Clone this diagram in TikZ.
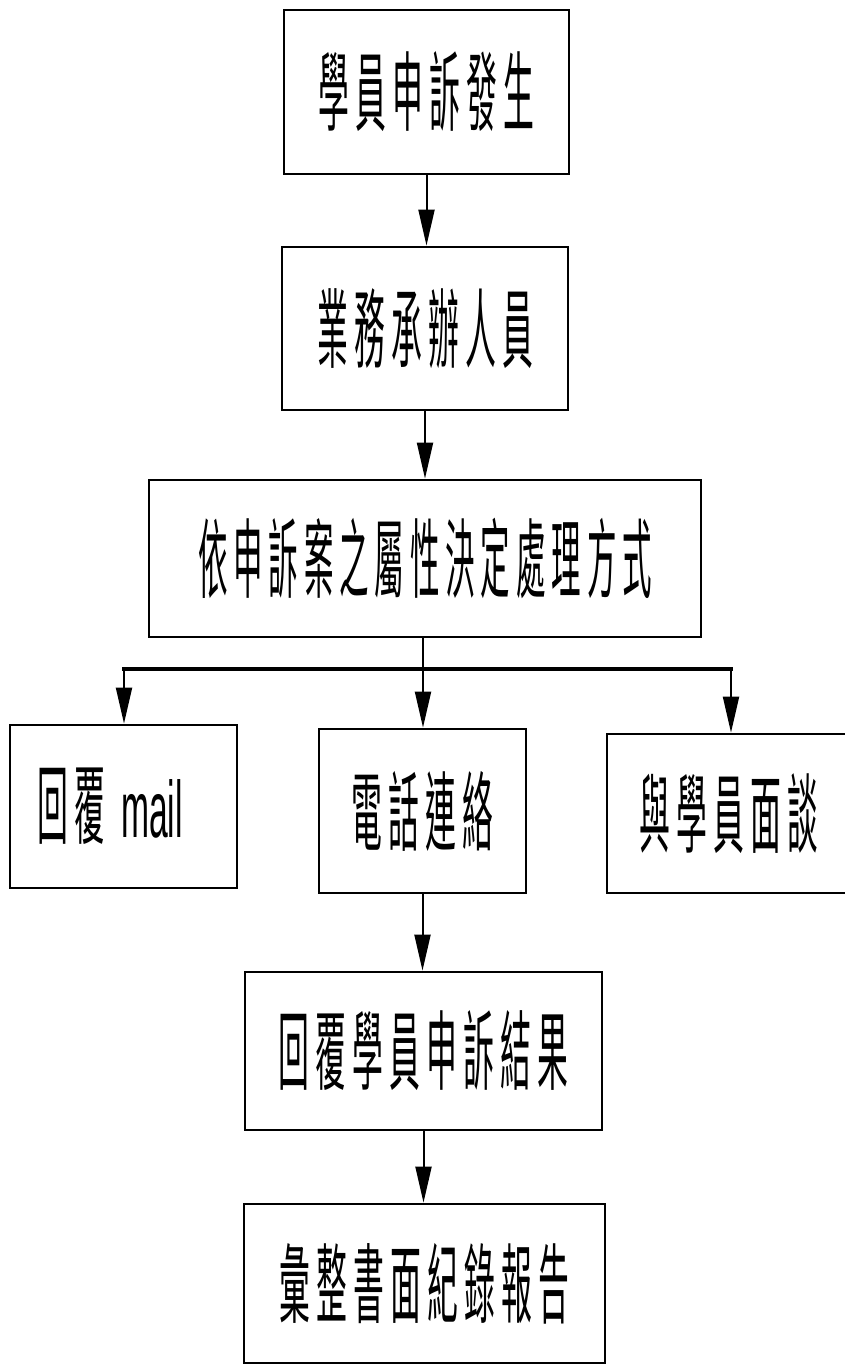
\documentclass[tikz,border=0pt]{standalone}
\usepackage{fontspec}
\newfontfamily\cjk{Noto Sans CJK TC}[LetterSpace=20]
\newfontfamily\lat{Liberation Sans}
\usetikzlibrary{arrows.meta}
\newcommand{\sqz}[2][0.356]{\scalebox{#1}[1]{#2}}
\tikzset{
  box/.style={draw, line width=2.1pt, inner sep=0pt, anchor=center,
              font=\cjk\fontsize{65}{70}\selectfont},
  txt/.style={inner sep=0pt, anchor=center, font=\cjk\fontsize{65}{70}\selectfont},
  conn/.style={line width=1.5pt, -{Triangle[length=27pt,width=12pt]}},
  plain/.style={line width=1.5pt},
  bar/.style={line width=2.4pt, line cap=rect}
}
\begin{document}
\begin{tikzpicture}[x=0.75pt,y=-0.75pt]
\useasboundingbox (0,0) rectangle (845,1365);
\clip (0,0) rectangle (845,1365);
\fill[white] (0,0) rectangle (845,1365);

\node[box, minimum width=213.75pt, minimum height=123pt]    (b1) at (426.5,92)   {\sqz{學員申訴發生}};
\node[box, minimum width=214.5pt,  minimum height=122.25pt] (b2) at (425,328.5)  {\sqz{業務承辦人員}};
\node[box, minimum width=414pt,    minimum height=117.75pt] (b3) at (425,558.5)  {\sqz[0.34]{依申訴案之屬性決定處理方式}};
\node[box, minimum width=170.25pt, minimum height=122.25pt] (b4) at (123.5,806.5) {};
\node[txt] (t4) at (110,806) {\sqz{回覆}\hspace{12pt}\sqz[0.42]{\lat\fontsize{60}{70}\selectfont mail}};
\node[box, minimum width=155.25pt, minimum height=123pt]    (b5) at (422.5,811)  {\sqz{電話連絡}};
\node[box, minimum width=182.25pt, minimum height=119.25pt] (b6) at (728.5,813.5) {\sqz{與學員面談}};
\node[box, minimum width=267.75pt, minimum height=118.5pt]  (b7) at (423.5,1051) {\sqz{回覆學員申訴結果}};
\node[box, minimum width=270.75pt, minimum height=119.25pt] (b8) at (424.5,1283.5) {\sqz{彙整書面紀錄報告}};

\coordinate (bl)  at (124,669);
\coordinate (bm)  at (423,669);
\coordinate (brr) at (731,669);

\draw[conn] (b1.south) -- (b2.north -| b1.south);
\draw[conn] (b2.south) -- (b3.north -| b2.south);
\draw[plain] (b3.south -| bm) -- (bm);
\draw[bar] (bl) -- (brr);
\draw[conn] (bl) -- (bl |- b4.north);
\draw[conn] (bm) -- (bm |- b5.north);
\draw[conn] (brr) -- (brr |- b6.north);
\draw[conn] (b5.south) -- (b7.north -| b5.south);
\draw[conn] (b7.south) -- (b8.north -| b7.south);
\end{tikzpicture}
\end{document}
